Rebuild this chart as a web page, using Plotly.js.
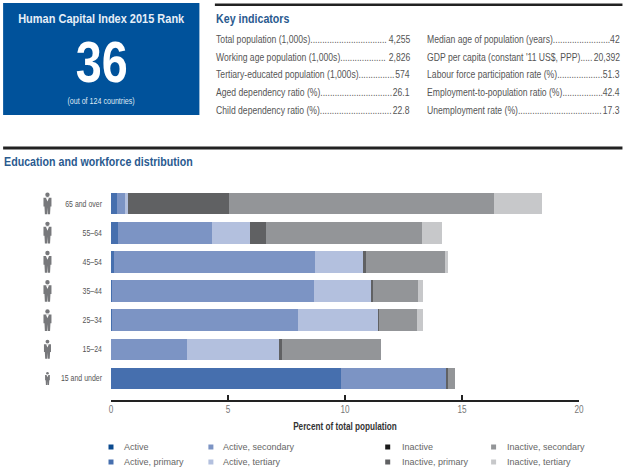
<!DOCTYPE html>
<html><head><meta charset="utf-8">
<script src="https://cdn.plot.ly/plotly-3.0.1.min.js"></script>
<style>html,body{margin:0;padding:0;background:#fff}#c{width:625px;height:475px}</style>
</head><body><div id="c"></div>
<script>
const ageGroups = ['65 and over','55–64','45–54','35–44','25–34','15–24','15 and under'];
const seriesNames = ['Active','Active, primary','Active, secondary','Active, tertiary','Inactive','Inactive, primary','Inactive, secondary','Inactive, tertiary'];
const seriesColors = ['#0b4a8f','#466fae','#7c94c4','#b3c0de','#1a1a1a','#606163','#939598','#c7c8ca'];
const active = [0,0,0,0,0,0,0];
const activePrimary = [0.26,0.30,0.13,0.03,0.03,0.01,9.82];
const activeSecondary = [0.34,4.02,8.59,8.65,7.96,3.24,4.51];
const activeTertiary = [0.14,1.62,2.04,2.45,3.42,3.94,0];
const inactive = [0,0,0,0,0,0,0];
const inactivePrimary = [4.30,0.68,0.14,0.07,0.06,0.12,0.07];
const inactiveSecondary = [11.34,6.67,3.36,1.92,1.62,4.22,0.29];
const inactiveTertiary = [2.02,0.87,0.13,0.21,0.24,0,0];
const seriesValues = [active,activePrimary,activeSecondary,activeTertiary,inactive,inactivePrimary,inactiveSecondary,inactiveTertiary];

const indicatorsLeft = [['Total population (1,000s)','4,255'],['Working age population (1,000s)','2,826'],['Tertiary-educated population (1,000s)','574'],['Aged dependency ratio (%)','26.1'],['Child dependency ratio (%)','22.8']];
const indicatorsRight = [['Median age of population (years)','42'],["GDP per capita (constant '11 US$, PPP)",'20,392'],['Labour force participation rate (%)','51.3'],['Employment-to-population ratio (%)','42.4'],['Unemployment rate (%)','17.3']];
const iconScale = [1,1,1,1,1,0.88,0.6];

const W=625,H=475,L=111,R=579.5,T=189,B=400;
const NARROW=0.82;
const px=x=>(x-L)/(R-L), py=y=>(B-y)/(B-T);
const FONT='"Liberation Sans",Arial,sans-serif';
const annotations=[], shapes=[];
function txt(x,y,text,size,color,anchor,bold){
  annotations.push({xref:'paper',yref:'paper',x:px(x),y:py(y),text:bold?'<b>'+text+'</b>':text,showarrow:false,
    xanchor:anchor||'left',yanchor:'middle',font:{family:FONT,size:size,color:color},borderpad:0});
}
function rect(x0,y0,x1,y1,color){
  shapes.push({type:'rect',xref:'paper',yref:'paper',x0:px(x0),x1:px(x1),y0:py(y0),y1:py(y1),fillcolor:color,line:{width:0},layer:'above'});
}
// header
rect(3,3,199.5,115,'#00529b');
txt(101,18,'Human Capital Index 2015 Rank',13.4,'#e6eef7','center',true);
txt(101,61.5,'36',57,'#ffffff','center',true);
txt(101,100.5,'(out of 124 countries)',8.7,'#dfe8f3','center');
rect(215,3.5,623,6,'#222222');
rect(3,146.5,623,149.5,'#222222');
txt(215,18,'Key indicators',13,'#2a5a8f','left',true);
txt(3,161.5,'Education and workforce distribution',13,'#2a5a8f','left',true);
const rowY=[39,57,74.5,92,110];
const ctx=document.createElement('canvas').getContext('2d');
ctx.font='10.5px "Liberation Sans"';
function rows(list,x0,x1){
  list.forEach((r,i)=>{
    const avail=(x1-x0)/NARROW-ctx.measureText(r[0]).width-ctx.measureText(r[1]).width-3;
    const n=Math.max(0,Math.floor(avail/ctx.measureText('.').width));
    txt(x0,rowY[i],r[0]+'.'.repeat(n),10.5,'#555');
    txt(x1,rowY[i],r[1],10.5,'#555','right');
  });
}
rows(indicatorsLeft,215,411);
rows(indicatorsRight,426,622);
// legend
const legendX=[111,211,388,494], legendTextX=[123,222,401,506], legendY=[447,462];
seriesNames.forEach((n,i)=>{
  const col=Math.floor(i/2), row=i%2;
  rect(legendX[col]-2.5,legendY[row]-2.5,legendX[col]+2.5,legendY[row]+2.5,seriesColors[i]);
  txt(legendTextX[col],legendY[row],n,9,'#666');
});
// person icons
ageGroups.forEach((g,i)=>{
  const cy=203.5+i*29.17, s=iconScale[i], cx=47.4, col='#77787b';
  const p=(x,y)=>px(cx+x*s)+' '+py(cy+y*s);
  shapes.push({type:'circle',xref:'paper',yref:'paper',x0:px(cx-2.2*s),x1:px(cx+2.2*s),y0:py(cy-11*s),y1:py(cy-6.6*s),fillcolor:col,line:{width:0}});
  const body='M'+p(-4,-5.8)+'L'+p(4,-5.8)+'L'+p(4,3)+'L'+p(3,3)+'L'+p(2.6,10.8)+'L'+p(0.3,10.8)+'L'+p(0,4)+'L'+p(-0.3,10.8)+'L'+p(-2.6,10.8)+'L'+p(-3,3)+'L'+p(-4,3)+'Z';
  shapes.push({type:'path',xref:'paper',yref:'paper',path:body,fillcolor:col,line:{width:0}});
  const collar='M'+p(-1.5,-5.8)+'L'+p(1.5,-5.8)+'L'+p(0,-2)+'Z';
  shapes.push({type:'path',xref:'paper',yref:'paper',path:collar,fillcolor:'#ffffff',line:{width:0}});
});
const traces=seriesNames.map((n,i)=>({type:'bar',orientation:'h',name:n,y:ageGroups,x:seriesValues[i],marker:{color:seriesColors[i],line:{width:0}}}));
Plotly.newPlot('c',traces,{
  width:W,height:H,barmode:'stack',bargap:0.26,showlegend:false,paper_bgcolor:'#fff',plot_bgcolor:'#fff',
  margin:{l:L,r:W-R,t:T,b:H-B,pad:0},font:{family:FONT,color:'#555'},
  xaxis:{range:[0,20],tickvals:[0,5,10,15,20],ticks:'inside',ticklen:5,tickwidth:1.5,tickcolor:'#222',showline:true,linecolor:'#222',linewidth:1.5,showgrid:false,zeroline:false,
    tickfont:{family:FONT,size:10,color:'#777'},title:{text:'<b>Percent of total population</b>',font:{family:FONT,size:10,color:'#333'},standoff:8}},
  yaxis:{type:'category',categoryorder:'array',categoryarray:ageGroups,range:[6.74,-0.5],showline:false,showgrid:false,zeroline:false,ticks:'',ticklabelstandoff:8,
    tickfont:{family:FONT,size:8.5,color:'#555'}},
  annotations,shapes
},{displayModeBar:false,staticPlot:true}).then(gd=>{
  // the reference uses a condensed face; squeeze the real text horizontally, keeping each text's anchored edge
  gd.querySelectorAll('svg text').forEach(t=>{
    if(seriesNames.includes(t.textContent)) return;
    const w=t.getComputedTextLength();
    if(!(w>0)) return;
    let x=parseFloat(t.getAttribute('x'))||0, pivot=x;
    const g=t.closest('.annotation');
    if(g){
      const a=annotations[+g.getAttribute('data-index')];
      pivot=x+(a.xanchor==='left'?-w/2:a.xanchor==='right'?w/2:0);
    }
    const prev=t.getAttribute('transform')||'';
    t.setAttribute('transform',prev+' translate('+pivot+',0) scale('+NARROW+',1) translate('+(-pivot)+',0)');
    if(g){
      const r=g.querySelector('rect');
      if(r){
        const rw=parseFloat(r.getAttribute('width'))||0, rx=parseFloat(r.getAttribute('x'))||0;
        r.setAttribute('x',pivot+(rx-pivot)*NARROW); r.setAttribute('width',rw*NARROW);
      }
    }
  });
});
</script></body></html>
